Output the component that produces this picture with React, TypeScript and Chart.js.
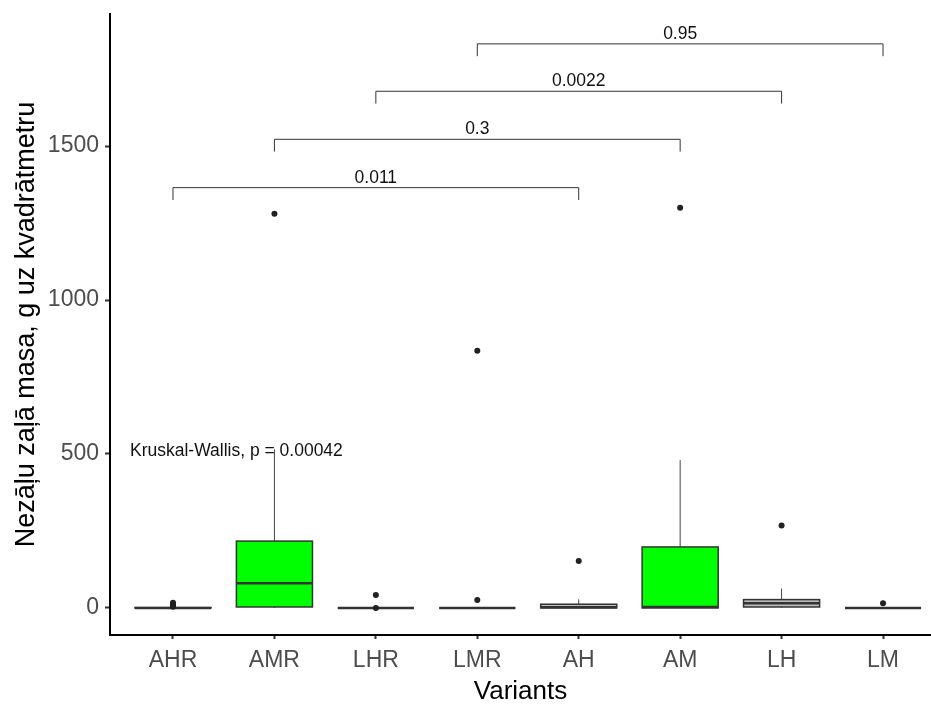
import React, { useEffect, useRef } from 'react';
import { Chart, registerables } from 'chart.js';

Chart.register(...registerables);

// ---------- data ----------
const categories = ['AHR', 'AMR', 'LHR', 'LMR', 'AH', 'AM', 'LH', 'LM'];
const q1Values = [0, 3, 0, 0, 0, 0, 3, 0];
const medianValues = [0, 80, 0, 0, 2, 3, 15, 0];
const q3Values = [1, 217, 0, 0, 12, 198, 27, 0];
const whiskerLow = [0, 0, 0, 0, 0, 0, 0, 0];
const whiskerHigh = [2, 515, 0, 0, 28, 480, 63, 0];
const outlierValues = [[4, 8, 12, 17], [1280], [0, 42], [26, 835], [152], [1300], [268], [15]];
const boxFills = ['#bdbdbd', '#00ff00', '#bdbdbd', '#bdbdbd', '#bdbdbd', '#00ff00', '#bdbdbd', '#bdbdbd'];
const yTickValues = [0, 500, 1000, 1500];

const bracketFrom = [0, 1, 2, 3];
const bracketTo = [4, 5, 6, 7];
const bracketY = [1365, 1522, 1678, 1832];
const bracketLabels = ['0.011', '0.3', '0.0022', '0.95'];
const bracketDrop = 40;

const kwLabel = 'Kruskal-Wallis, p = 0.00042';
const kwX = -0.424;
const kwY = 493;

const FONT = "'Liberation Sans', Arial, sans-serif";

const boxPlugin = {
  id: 'boxes',
  beforeDatasetsDraw(chart: any) {
    const { ctx } = chart;
    const xs = chart.scales.x;
    const ys = chart.scales.y;
    const half = 0.375;
    ctx.save();
    categories.forEach((_, i) => {
      const xc = xs.getPixelForValue(i);
      const xl = xs.getPixelForValue(i - half);
      const xr = xs.getPixelForValue(i + half);
      const yq1 = ys.getPixelForValue(q1Values[i]);
      const yq3 = ys.getPixelForValue(q3Values[i]);
      const ymed = ys.getPixelForValue(medianValues[i]);
      const ylo = ys.getPixelForValue(whiskerLow[i]);
      const yhi = ys.getPixelForValue(whiskerHigh[i]);
      // whiskers
      ctx.strokeStyle = '#444444';
      ctx.lineWidth = 1;
      ctx.beginPath();
      ctx.moveTo(xc, yq3);
      ctx.lineTo(xc, yhi);
      ctx.moveTo(xc, yq1);
      ctx.lineTo(xc, ylo);
      ctx.stroke();
      // box
      ctx.strokeStyle = '#333333';
      ctx.fillStyle = boxFills[i];
      ctx.fillRect(xl, yq3, xr - xl, yq1 - yq3);
      ctx.lineWidth = 1.5;
      ctx.strokeRect(xl, yq3, xr - xl, yq1 - yq3);
      // median
      ctx.lineWidth = 2.5;
      ctx.beginPath();
      ctx.moveTo(xl, ymed);
      ctx.lineTo(xr, ymed);
      ctx.stroke();
    });
    ctx.restore();
  },
  afterDraw(chart: any) {
    const { ctx } = chart;
    const xs = chart.scales.x;
    const ys = chart.scales.y;
    ctx.save();
    ctx.strokeStyle = '#333333';
    ctx.lineWidth = 1;
    ctx.fillStyle = '#111111';
    ctx.font = `17.5px ${FONT}`;
    ctx.textAlign = 'center';
    ctx.textBaseline = 'alphabetic';
    bracketFrom.forEach((from, k) => {
      const x1 = xs.getPixelForValue(from);
      const x2 = xs.getPixelForValue(bracketTo[k]);
      const y = ys.getPixelForValue(bracketY[k]);
      const yd = ys.getPixelForValue(bracketY[k] - bracketDrop);
      ctx.beginPath();
      ctx.moveTo(x1, yd);
      ctx.lineTo(x1, y);
      ctx.lineTo(x2, y);
      ctx.lineTo(x2, yd);
      ctx.stroke();
      ctx.fillText(bracketLabels[k], (x1 + x2) / 2, y - 5);
    });
    ctx.textAlign = 'left';
    ctx.fillText(kwLabel, xs.getPixelForValue(kwX), ys.getPixelForValue(kwY));
    ctx.restore();
  },
};

export default function App() {
  const ref = useRef<HTMLCanvasElement | null>(null);

  useEffect(() => {
    if (!ref.current) return;
    Chart.defaults.font.family = FONT;
    const points = outlierValues.flatMap((vals, i) => vals.map((v) => ({ x: i, y: v })));
    const chart = new Chart(ref.current, {
      type: 'scatter',
      data: {
        datasets: [
          {
            label: 'outliers',
            data: points,
            pointRadius: 3,
            pointBackgroundColor: '#222222',
            pointBorderWidth: 0,
            pointBorderColor: '#222222',
          },
        ],
      },
      options: {
        responsive: false,
        devicePixelRatio: 1,
        animation: false,
        layout: { autoPadding: false, padding: { top: 14, left: 0, right: 0, bottom: 0 } },
        plugins: {
          legend: { display: false },
          tooltip: { enabled: false },
        },
        scales: {
          x: {
            type: 'linear',
            position: 'bottom',
            min: -0.621,
            max: 7.473,
            afterBuildTicks: (s: any) => {
              s.ticks = categories.map((_, i) => ({ value: i }));
            },
            afterFit: (s: any) => {
              s.height = 72;
              s.paddingLeft = 0;
              s.paddingRight = 0;
            },
            ticks: {
              autoSkip: false,
              maxRotation: 0,
              callback: (v: any) => categories[v] ?? '',
              color: '#4d4d4d',
              font: { size: 23 },
              padding: 8,
            },
            grid: {
              drawOnChartArea: false,
              drawTicks: true,
              tickLength: 4,
              tickColor: '#333333',
              tickWidth: 2,
            },
            border: { display: true, color: '#000000', width: 2 },
            title: {
              display: true,
              text: 'Variants',
              color: '#000000',
              font: { size: 26 },
              padding: { top: 1, bottom: 0 },
            },
          },
          y: {
            type: 'linear',
            min: -88,
            max: 1929,
            afterBuildTicks: (s: any) => {
              s.ticks = yTickValues.map((v) => ({ value: v }));
            },
            afterFit: (s: any) => {
              s.width = 110;
              s.paddingTop = 0;
              s.paddingBottom = 0;
            },
            ticks: {
              color: '#4d4d4d',
              font: { size: 23 },
              padding: 6,
              callback: (v: any) => String(v),
            },
            grid: {
              drawOnChartArea: false,
              drawTicks: true,
              tickLength: 5,
              tickColor: '#333333',
              tickWidth: 2,
            },
            border: { display: true, color: '#000000', width: 2 },
            title: {
              display: true,
              text: 'Nezāļu zaļā masa, g uz kvadrātmetru',
              color: '#000000',
              font: { size: 27 },
              padding: { top: 10, bottom: 0 },
            },
          },
        },
      },
      plugins: [boxPlugin],
    });
    return () => chart.destroy();
  }, []);

  return (
    <div style={{ position: 'fixed', left: 0, top: 0, width: 931, height: 707, background: '#ffffff' }}>
      <canvas ref={ref} width={931} height={707} style={{ display: 'block' }} />
    </div>
  );
}
